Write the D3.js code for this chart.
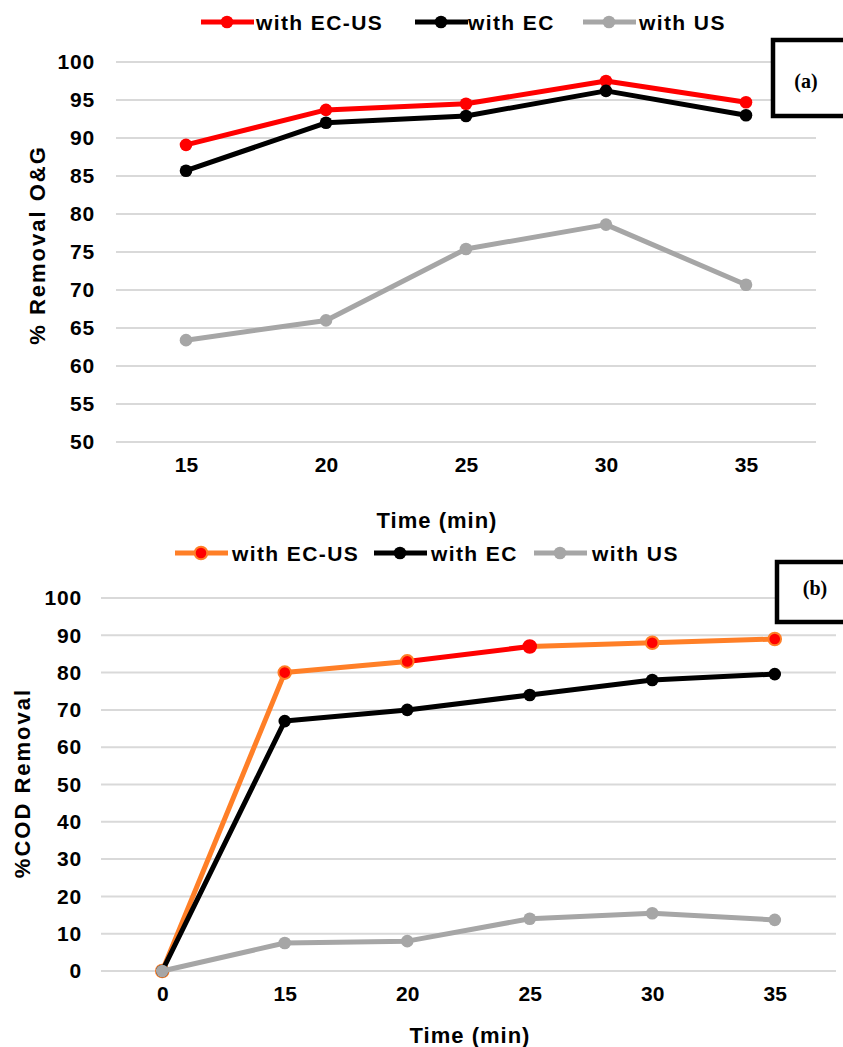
<!DOCTYPE html>
<html>
<head>
<meta charset="utf-8">
<script src="https://cdn.jsdelivr.net/npm/d3@7"></script>
<style>
  body { margin: 0; background: #fff; }
  text { font-family: Arial, "Liberation Sans", sans-serif; font-weight: bold; fill: #000; }
</style>
</head>
<body>
<div id="chart"></div>
<script>
// panel (a) - O&G removal
var timeA = ["15", "20", "25", "30", "35"];
var ogECUS = [89.1, 93.7, 94.5, 97.5, 94.7];
var ogEC = [85.7, 92.0, 92.9, 96.2, 93.0];
var ogUS = [63.4, 66.0, 75.4, 78.6, 70.7];
var yTicksA = [50, 55, 60, 65, 70, 75, 80, 85, 90, 95, 100];

// panel (b) - COD removal
var timeB = ["0", "15", "20", "25", "30", "35"];
var codECUS = [0, 80, 83, 87, 88, 89];
var codEC = [0, 67, 70, 74, 78, 79.6];
var codUS = [0, 7.5, 8, 14, 15.5, 13.7];
var yTicksB = [0, 10, 20, 30, 40, 50, 60, 70, 80, 90, 100];

var seriesNames = ["with EC-US", "with EC", "with US"];

var red = "#ff0000", orange = "#ff7f27", black = "#000000", gray = "#a6a6a6";

var svg = d3.select("#chart").append("svg")
    .attr("width", 843)
    .attr("height", 1047);

function panel(opt) {
  var x = d3.scalePoint().domain(opt.cats).range([opt.x0, opt.x1]).padding(0.5);
  var y = d3.scaleLinear().domain(opt.ydom).range([opt.yb, opt.yt]);
  var g = svg.append("g");

  // gridlines
  g.selectAll(".grid").data(opt.ticks).enter().append("line")
    .attr("x1", opt.x0).attr("x2", opt.x1)
    .attr("y1", d => y(d)).attr("y2", d => y(d))
    .attr("stroke", "#d9d9d9").attr("stroke-width", 2);

  var ya = g.append("g").attr("transform", "translate(" + opt.x0 + ",0)")
    .call(d3.axisLeft(y).tickValues(opt.ticks).tickSize(0).tickPadding(opt.ypad));
  ya.select(".domain").remove();
  ya.selectAll("text")
    .style("font-size", "21px")
    .style("letter-spacing", "0.8px")
    .style("font-family", "Arial, 'Liberation Sans', sans-serif");

  var xa = g.append("g").attr("transform", "translate(0," + opt.yb + ")")
    .call(d3.axisBottom(x).tickSize(0).tickPadding(15));
  xa.select(".domain").remove();
  xa.selectAll("text")
    .style("font-size", "21px")
    .style("font-family", "Arial, 'Liberation Sans', sans-serif");

  // axis titles
  g.append("text")
    .attr("transform", "translate(" + opt.ylabX + "," + opt.ylabY + ") rotate(-90)")
    .attr("text-anchor", "middle")
    .style("font-size", "22px")
    .style("letter-spacing", "2px")
    .text(opt.ylab);
  g.append("text")
    .attr("x", opt.xlabX).attr("y", opt.xlabY)
    .attr("text-anchor", "middle")
    .style("font-size", "22px")
    .style("letter-spacing", "1px")
    .text("Time (min)");

  var line = d3.line().x(d => x(d[0])).y(d => y(d[1]));

  opt.series.forEach(function(s) {
    var pts = s.values.map((v, i) => [opt.cats[i], v]);
    if (s.segColors) {
      // EC-US in (b) changes colour from segment to segment
      d3.pairs(pts).forEach(function(p, i) {
        g.append("path")
          .attr("d", line(p))
          .attr("fill", "none")
          .attr("stroke", s.segColors[i])
          .attr("stroke-width", 5)
          .attr("stroke-linecap", "round");
      });
    } else {
      g.append("path")
        .attr("d", line(pts))
        .attr("fill", "none")
        .attr("stroke", s.color)
        .attr("stroke-width", 5)
        .attr("stroke-linejoin", "round");
    }
    g.selectAll(null).data(pts).enter().append("circle")
      .attr("cx", d => x(d[0]))
      .attr("cy", d => y(d[1]))
      .attr("r", 6.3)
      .attr("fill", s.marker || s.color)
      .attr("stroke", (d, i) => s.markerStroke ? s.markerStroke[i] : "none")
      .attr("stroke-width", 2);
  });

  // legend
  opt.series.forEach(function(s, i) {
    var lx = opt.legX[i];
    g.append("line")
      .attr("x1", lx).attr("x2", lx + 53)
      .attr("y1", opt.legY).attr("y2", opt.legY)
      .attr("stroke", s.legColor || s.color).attr("stroke-width", 5);
    g.append("circle")
      .attr("cx", lx + 26).attr("cy", opt.legY).attr("r", 6.3)
      .attr("fill", s.marker || s.color)
      .attr("stroke", s.markerStroke ? s.markerStroke[1] : "none")
      .attr("stroke-width", 2);
    g.append("text")
      .attr("x", opt.legT[i]).attr("y", opt.legY + 7.5)
      .style("font-size", "21px")
      .style("letter-spacing", "1.4px")
      .text(seriesNames[i]);
  });

  // label box
  g.append("rect")
    .attr("x", opt.box[0]).attr("y", opt.box[1])
    .attr("width", 100).attr("height", opt.box[2])
    .attr("fill", "#fff").attr("stroke", "#000").attr("stroke-width", 4.5);
  g.append("text")
    .attr("x", opt.tagX).attr("y", opt.box[3])
    .attr("text-anchor", "middle")
    .style("font-family", "'Liberation Serif', 'DejaVu Serif', serif")
    .style("font-size", "20px")
    .text(opt.tag);
}

panel({
  cats: timeA, ydom: [50, 100], ticks: yTicksA,
  x0: 116, x1: 816, yb: 442, yt: 62, ypad: 21,
  ylab: "% Removal O&G", ylabX: 45, ylabY: 245,
  xlabX: 437, xlabY: 528,
  series: [
    { values: ogECUS, color: red },
    { values: ogEC, color: black },
    { values: ogUS, color: gray }
  ],
  legX: [201, 415, 583], legT: [256, 468, 639], legY: 22,
  box: [773, 40, 76, 88], tagX: 806, tag: "(a)"
});

panel({
  cats: timeB, ydom: [0, 100], ticks: yTicksB,
  x0: 101, x1: 836, yb: 971, yt: 598, ypad: 19,
  ylab: "%COD Removal", ylabX: 30, ylabY: 783,
  xlabX: 470, xlabY: 1043,
  series: [
    { values: codECUS, color: orange, marker: red, legColor: orange,
      segColors: [orange, orange, red, orange, orange],
      markerStroke: [orange, orange, orange, red, orange, orange] },
    { values: codEC, color: black },
    { values: codUS, color: gray }
  ],
  legX: [175, 374, 534], legT: [232, 431, 592], legY: 553,
  box: [777, 562, 60, 595], tagX: 815, tag: "(b)"
});
</script>
</body>
</html>
